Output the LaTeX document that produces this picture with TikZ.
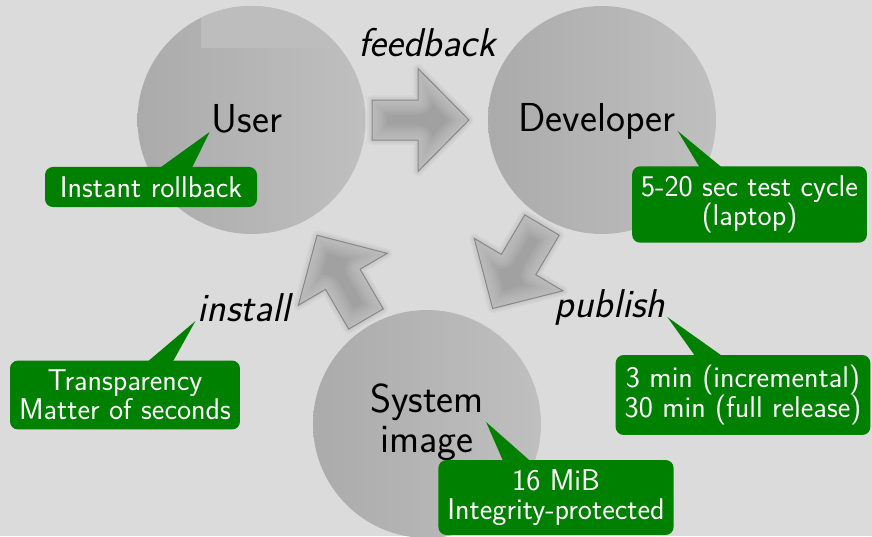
\documentclass[tikz,border=0pt]{standalone}
\usepackage{fontspec}
\usepackage{tikz}
\usetikzlibrary{calc,positioning}

\definecolor{notegreen}{RGB}{0,128,0}
\newcommand\arrowoutline{(0,-20) -- (46,-20) -- (46,-51.5) -- (97,0) -- (46,51.5) -- (46,20) -- (0,20) -- cycle}

\tikzset{
  pics/bigarrow/.style={code={
    % soft halo
    \foreach \w in {10,7,4}
      \draw[black,opacity=.025,line width=\w,line join=round] \arrowoutline;
    \fill[black!37] \arrowoutline;
    % lighter rim inside
    \begin{scope}
      \clip \arrowoutline;
      \foreach \w in {30,27,...,3}
        \draw[black!18,opacity=.09,line width=\w,line join=round] \arrowoutline;
    \end{scope}
    \draw[black!47,line width=1] \arrowoutline;
  }}
}

\begin{document}
\begin{tikzpicture}[x=1pt,y=-1pt,
  stage/.style={circle,minimum size=228,inner sep=0,left color=black!33,right color=black!25},
  bigtext/.style={font=\sffamily\fontsize{40.4}{40}\selectfont,inner sep=2,align=center},
  verb/.style={font=\sffamily\itshape\fontsize{40.2}{40}\selectfont,inner sep=2},
  note/.style={fill=notegreen,text=white,rounded corners=8,align=center,
    font=\sffamily\fontsize{30}{29}\selectfont,inner xsep=9,inner ysep=9.5},
  pointer/.style={fill=notegreen}]
  % Background
  \fill[black!14] (0,0) rectangle (872,536);
  \useasboundingbox (0,0) rectangle (872,536);

  % The three stages
  \node (userdisc) [stage] at (251.5,120) {};
  \node (devdisc) [stage] at (602,120) {};
  \node (sysdisc) [stage] at (427,424) {};
  \begin{scope}
    \clip (251.5,120) circle (114);
    \fill[black!26] (201,0) rectangle (345,48);
  \end{scope}

  % Block arrows between the stages
  \pic[rotate=0] at (372,120) {bigarrow};
  \pic[rotate=239.4] at (542,225) {bigarrow};
  \pic[rotate=120.3] at (366,319) {bigarrow};

  % Stage names
  \node (user) [bigtext,anchor=base] at (247,132) {User};
  \node (developer) [bigtext,anchor=base] at (597,131) {Developer};
  \node (sysimg) [bigtext] at (427,422) {System\\image};

  % Actions
  \node (feedback) [verb,anchor=base] at (427,56) {feedback};
  \node (publish) [verb,anchor=base] at (610,317) {publish};
  \node (install) [verb,anchor=base] at (244,321) {install};

  % Green notes
  \node (rollback) [note,minimum width=212] at (151,187) {Instant rollback};
  \fill[pointer] (user.base west) -- ([xshift=9,yshift=-1]rollback.north) -- ([xshift=41,yshift=-1]rollback.north) -- cycle;

  \node (testcycle) [note] at (749.5,204.5) {5-20 sec test cycle\\(laptop)};
  \fill[pointer] (developer.base east) -- ([xshift=-50,yshift=-1]testcycle.north) -- ([xshift=-28,yshift=-1]testcycle.north) -- cycle;

  \node (pubtime) [note] at (743,395) {3 min (incremental)\\30 min (full release)};
  \fill[pointer] (publish.base east) -- ([xshift=-48,yshift=-1]pubtime.north) -- ([xshift=-21,yshift=-1]pubtime.north) -- cycle;

  \node (transparency) [note] at (125,395) {Transparency\\Matter of seconds};
  \fill[pointer] (install.base west) -- ([xshift=23,yshift=-1]transparency.north) -- ([xshift=48,yshift=-1]transparency.north) -- cycle;

  \node (mib) [note] at (556,497.5) {16 MiB\\Integrity-protected};
  \fill[pointer] (sysimg.east) -- ([xshift=-53,yshift=-1]mib.north) -- ([xshift=-26,yshift=-1]mib.north) -- cycle;
\end{tikzpicture}
\end{document}
